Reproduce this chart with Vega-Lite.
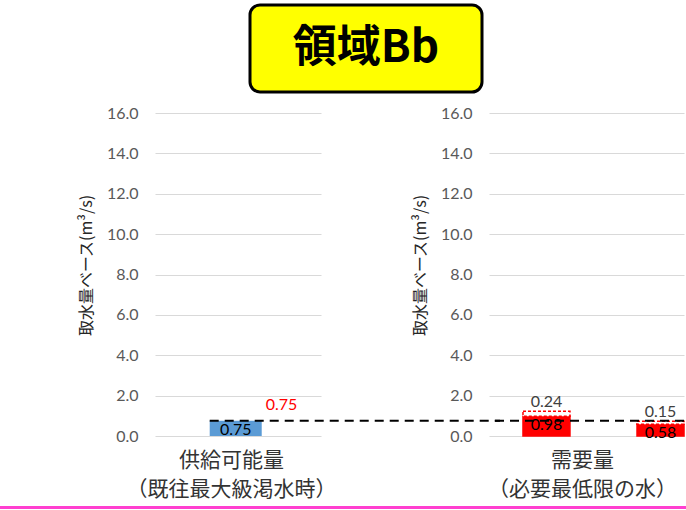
{
  "$schema": "https://vega.github.io/schema/vega-lite/v6.json",
  "padding": {"left": 0, "top": 3, "right": 0, "bottom": 0},
  "background": "white",
  "datasets": {
    "supply": [{"cat": "供給可能量", "value": 0.75}],
    "demand": [
      {"cat": "需要1", "part": "必要量", "k": 1, "value": 0.98},
      {"cat": "需要1", "part": "追加", "k": 2, "value": 0.24},
      {"cat": "需要2", "part": "必要量", "k": 1, "value": 0.58},
      {"cat": "需要2", "part": "追加", "k": 2, "value": 0.15}
    ],
    "title": [{"t": "領域Bb"}]
  },
  "spacing": 11,
  "vconcat": [
    {
      "spacing": 0,
      "hconcat": [
        {"width": 248, "height": 1, "data": {"values": []}, "mark": "point"},
        {
          "width": 232,
          "height": 87,
          "view": {"fill": "#ffff00", "stroke": "#000000", "strokeWidth": 3, "cornerRadius": 10},
          "data": {"name": "title"},
          "mark": {"type": "text", "font": "Noto Sans CJK JP", "fontSize": 44, "fontWeight": "bold", "color": "#000000", "baseline": "middle", "align": "center"},
          "encoding": {"text": {"field": "t"}}
        }
      ]
    },
    {
      "spacing": 7,
      "vconcat": [
        {
          "spacing": 0,
          "hconcat": [
            {"width": 78, "height": 1, "data": {"values": []}, "mark": "point"},
            {
              "spacing": 168,
              "bounds": "flush",
              "hconcat": [
                {
                  "width": 166,
                  "height": 323,
                  "data": {"name": "supply"},
                  "layer": [
                    {
                      "mark": {"type": "bar", "color": "#5b9bd5"},
                      "encoding": {
                        "x": {"field": "cat", "type": "nominal", "scale": {"paddingInner": 0.5, "paddingOuter": 0.548, "align": 0.48},
                              "axis": {"title": ["供給可能量", "（既往最大級渇水時）"], "titleX": 76}},
                        "y": {"field": "value", "type": "quantitative", "scale": {"domain": [0, 16], "nice": false},
                              "axis": {"title": "取水量ベース(m³/s)", "titleY": 152}}
                      }
                    },
                    {
                      "mark": {"type": "rule", "color": "#000000", "strokeWidth": 2, "strokeDash": [9, 6]},
                      "encoding": {
                        "x": {"field": "cat", "type": "nominal", "bandPosition": 0},
                        "x2": {"value": 345},
                        "y": {"field": "value", "type": "quantitative"}
                      }
                    },
                    {
                      "mark": {"type": "text", "font": "Lato", "fontSize": 16, "color": "#000000", "baseline": "middle", "dy": 9},
                      "encoding": {
                        "x": {"field": "cat", "type": "nominal"},
                        "y": {"field": "value", "type": "quantitative"},
                        "text": {"field": "value", "type": "quantitative", "format": ".2f"}
                      }
                    },
                    {
                      "mark": {"type": "text", "font": "Lato", "fontSize": 16, "color": "#ff0000", "baseline": "middle", "align": "left", "dx": 4, "dy": -16},
                      "encoding": {
                        "x": {"field": "cat", "type": "nominal", "bandPosition": 1},
                        "y": {"field": "value", "type": "quantitative"},
                        "text": {"field": "value", "type": "quantitative", "format": ".2f"}
                      }
                    }
                  ]
                },
                {
                  "width": 195,
                  "height": 323,
                  "layer": [
                    {
                      "data": {"name": "demand"},
                      "mark": {"type": "bar", "strokeWidth": 1.5},
                      "encoding": {
                        "x": {"field": "cat", "type": "nominal", "scale": {"paddingInner": 0.588, "paddingOuter": 0.149, "align": 1},
                              "axis": {"title": ["需要量", "（必要最低限の水）"], "titleX": 93}},
                        "y": {"field": "value", "type": "quantitative", "stack": "zero", "scale": {"domain": [0, 16], "nice": false},
                              "axis": {"title": "取水量ベース(m³/s)", "titleY": 152}},
                        "order": {"field": "k", "type": "quantitative"},
                        "fill": {"field": "part", "type": "nominal", "scale": {"domain": ["必要量", "追加"], "range": ["#ff0000", "#ffffff"]}, "legend": null},
                        "stroke": {"field": "part", "type": "nominal", "scale": {"domain": ["必要量", "追加"], "range": ["#ff0000", "#ff0000"]}, "legend": null},
                        "strokeDash": {"field": "part", "type": "nominal", "scale": {"domain": ["必要量", "追加"], "range": [[1, 0], [3, 2]]}, "legend": null}
                      }
                    },
                    {
                      "data": {"name": "supply"},
                      "mark": {"type": "rule", "color": "#000000", "strokeWidth": 2, "strokeDash": [9, 6]},
                      "encoding": {
                        "y": {"field": "value", "type": "quantitative"}
                      }
                    },
                    {
                      "data": {"name": "demand"},
                      "transform": [{"filter": "datum.part === '必要量'"}],
                      "mark": {"type": "text", "font": "Lato", "fontSize": 16, "color": "#000000", "baseline": "middle", "dy": 9},
                      "encoding": {
                        "x": {"field": "cat", "type": "nominal"},
                        "y": {"field": "value", "type": "quantitative"},
                        "text": {"field": "value", "type": "quantitative", "format": ".2f"}
                      }
                    },
                    {
                      "data": {"name": "demand"},
                      "transform": [
                        {"joinaggregate": [{"op": "sum", "field": "value", "as": "total"}], "groupby": ["cat"]},
                        {"filter": "datum.part === '追加'"}
                      ],
                      "mark": {"type": "text", "font": "Lato", "fontSize": 16, "color": "#404040", "baseline": "alphabetic", "dy": -4},
                      "encoding": {
                        "x": {"field": "cat", "type": "nominal"},
                        "y": {"field": "total", "type": "quantitative"},
                        "text": {"field": "value", "type": "quantitative", "format": ".2f"}
                      }
                    }
                  ]
                }
              ]
            }
          ]
        },
        {
          "width": 686,
          "height": 3,
          "view": {"fill": "#ff3fd0", "stroke": null},
          "data": {"values": []},
          "mark": "point"
        }
      ]
    }
  ],
  "config": {
    "view": {"stroke": null},
    "font": "Noto Sans CJK JP",
    "axisY": {
      "values": [0, 2, 4, 6, 8, 10, 12, 14, 16],
      "format": ".1f",
      "domain": false,
      "ticks": false,
      "tickSize": 0,
      "labelPadding": 17,
      "labelFont": "Lato",
      "labelFontSize": 16,
      "labelColor": "#595959",
      "gridColor": "#d9d9d9",
      "gridWidth": 1,
      "titleFont": "Noto Sans CJK JP",
      "titleFontSize": 16,
      "titleFontWeight": "normal",
      "titleColor": "#262626",
      "titlePadding": 12
    },
    "axisX": {
      "labels": false,
      "ticks": false,
      "domain": false,
      "grid": false,
      "titleFont": "Noto Sans CJK JP",
      "titleFontSize": 21,
      "titleFontWeight": "normal",
      "titleColor": "#333333",
      "titleLineHeight": 29,
      "titlePadding": 13
    }
  }
}
